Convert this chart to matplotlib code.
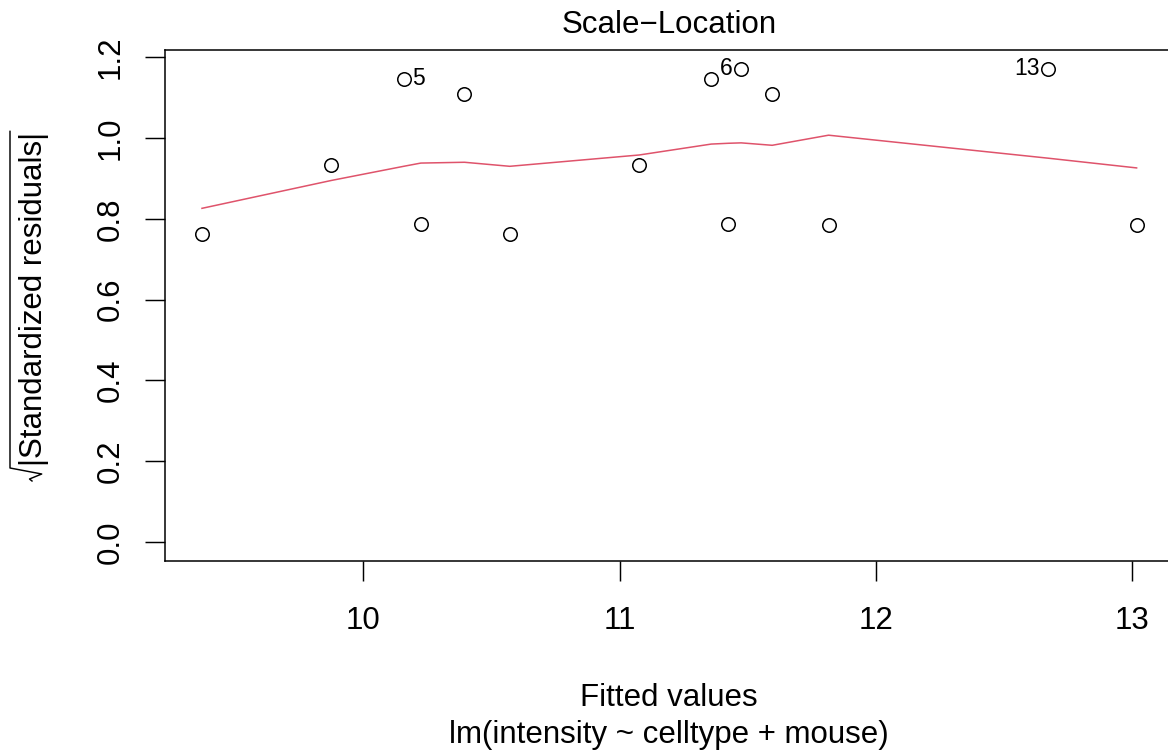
import matplotlib
matplotlib.use("Agg")
import matplotlib.pyplot as plt
from matplotlib.lines import Line2D
import numpy as np

plt.rcParams['font.family'] = ['Liberation Sans', 'DejaVu Sans']

# ---- data ----
fitted = [9.370, 9.875, 10.157, 10.224, 10.394, 10.571, 11.076,
          11.357, 11.424, 11.474, 11.595, 11.815, 12.673, 13.017]
sqrt_std_resid = [0.762, 0.932, 1.147, 0.787, 1.109, 0.762, 0.932,
                  1.147, 0.787, 1.171, 1.109, 0.784, 1.171, 0.784]
smooth_y = [0.826, 0.895, 0.930, 0.938, 0.940, 0.930, 0.958,
            0.985, 0.987, 0.988, 0.982, 1.007, 0.950, 0.926]
point_ids = {2: "5", 9: "6", 12: "13"}
x_ticks = [10, 11, 12, 13]
y_ticks = [0.0, 0.2, 0.4, 0.6, 0.8, 1.0, 1.2]
title = "Scale\u2212Location"
xlab = "Fitted values"
sublab = "lm(intensity ~ celltype + mouse)"
ylab = "|Standardized residuals|"

FS = 22.5
W, H = 1168, 752
fig = plt.figure(figsize=(W / 100, H / 100), dpi=100)

def fx(px):
    return px / W

def fy(py):
    return 1 - py / H

# axes region in pixels: left 164.6, top 50, bottom 561, right ~1174
ax = fig.add_axes([fx(164.6), fy(561), fx(1174 - 164.6), (561 - 50) / H])

x = np.array(fitted)
y = np.array(sqrt_std_resid)
xr = x.max() - x.min()
ax.set_xlim(x.min() - 0.04 * xr, x.max() + 0.04 * xr)
ymax = y.max()
ax.set_ylim(-0.04 * ymax, ymax * 1.04)

ax.plot(x, y, linestyle='none', marker='o', markersize=9.7,
        markerfacecolor='none', markeredgecolor='black', markeredgewidth=1.1)
ax.plot(x, smooth_y, color='#DF536B', linewidth=1.1)

mid = (x.min() + x.max()) / 2
for i, lab in point_ids.items():
    if x[i] < mid:
        ax.annotate(lab, (x[i], y[i]), xytext=(6.3, 0), textcoords='offset points',
                    ha='left', va='center', fontsize=16.5)
    else:
        ax.annotate(lab, (x[i], y[i]), xytext=(-6.3, 0), textcoords='offset points',
                    ha='right', va='center', fontsize=16.5)

ax.set_xticks(x_ticks)
ax.set_xticklabels([str(v) for v in x_ticks])
ax.set_yticks(y_ticks)
ax.set_yticklabels([f"{v:.1f}" for v in y_ticks])
ax.tick_params(axis='both', direction='out', length=14.4, width=1.05,
               labelsize=FS, colors='black')
ax.tick_params(axis='x', pad=18)
ax.tick_params(axis='y', pad=13.5)
for lab in ax.get_yticklabels():
    lab.set_rotation(90)
    lab.set_va('center')
    lab.set_ha('right')
for s in ax.spines.values():
    s.set_linewidth(1.1)
    s.set_color('black')

fig.text(fx(669), fy(33.3), title, ha='center', va='baseline', fontsize=FS)
fig.text(fx(669), fy(706), xlab, ha='center', va='baseline', fontsize=FS)
fig.text(fx(669), fy(743), sublab, ha='center', va='baseline', fontsize=FS)

# y label: sqrt(|Standardized residuals|) drawn plotmath-style
base_x = 41.7      # baseline position (px from left)
start_y = 466.5    # text start (px from top)
t = fig.text(fx(base_x), fy(start_y), ylab, rotation=90, rotation_mode='anchor',
             ha='left', va='baseline', fontsize=FS)
fig.canvas.draw()
bb = t.get_window_extent()
end_py = H - bb.y1  # end of text in px from top
over_x = 10.0
rad_pts_px = [(over_x, end_py - 1), (over_x, 468.0), (base_x, 474.0),
              (29.5, 479.0), (32.0, 481.0)]
fig.add_artist(Line2D([fx(p[0]) for p in rad_pts_px], [fy(p[1]) for p in rad_pts_px],
                      transform=fig.transFigure, color='black', linewidth=1.05))

fig.savefig("out.png", dpi=100)
